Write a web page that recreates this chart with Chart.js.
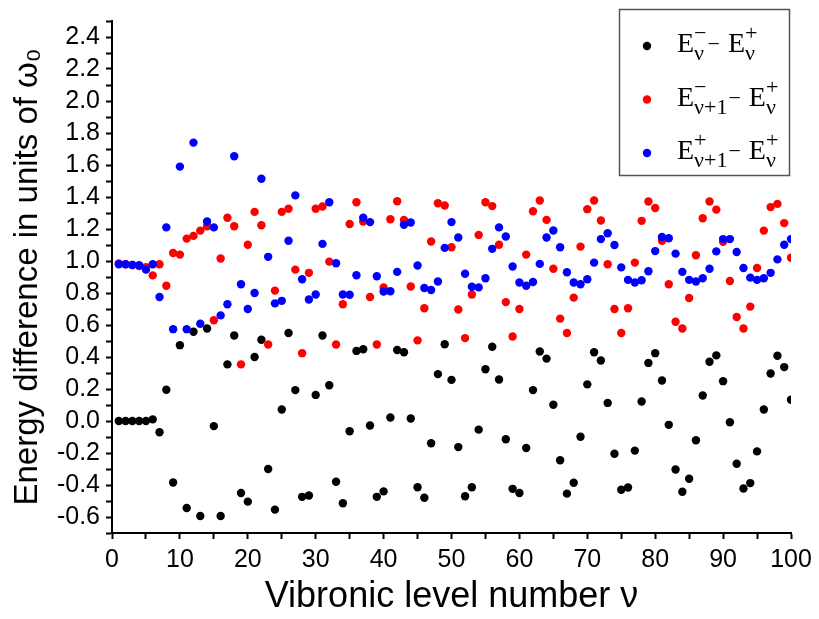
<!DOCTYPE html>
<html>
<head>
<meta charset="utf-8">
<script src="https://cdn.jsdelivr.net/npm/chart.js@4.4.0/dist/chart.umd.min.js"></script>
<style>
html, body { margin: 0; padding: 0; background: #fff; }
#wrap { width: 819px; height: 619px; }
</style>
</head>
<body>
<div id="wrap"><canvas id="energy_chart" width="819" height="619"></canvas></div>
<script>
// vibronic level numbers
const levels = [
  1, 2, 3, 4, 5, 6, 7, 8, 9, 10, 11, 12, 13, 14, 15, 16, 17, 18, 19, 20,
  21, 22, 23, 24, 25, 26, 27, 28, 29, 30, 31, 32, 33, 34, 35, 36, 37, 38, 39, 40,
  41, 42, 43, 44, 45, 46, 47, 48, 49, 50, 51, 52, 53, 54, 55, 56, 57, 58, 59, 60,
  61, 62, 63, 64, 65, 66, 67, 68, 69, 70, 71, 72, 73, 74, 75, 76, 77, 78, 79, 80,
  81, 82, 83, 84, 85, 86, 87, 88, 89, 90, 91, 92, 93, 94, 95, 96, 97, 98, 99, 100
];

// E-(v) - E+(v)
const diff_minus_plus = [
  0, 0, 0, 0, 0, 0.01, -0.07, 0.195, -0.384, 0.474,
  -0.544, 0.558, -0.594, 0.578, -0.032, -0.594, 0.354, 0.534, -0.45, -0.504,
  0.4, 0.508, -0.3, -0.554, 0.072, 0.55, 0.193, -0.474, -0.466, 0.163,
  0.534, 0.223, -0.38, -0.514, -0.064, 0.438, 0.448, -0.028, -0.474, -0.44,
  0.022, 0.444, 0.43, 0.016, -0.414, -0.48, -0.139, 0.293, 0.48, 0.257,
  -0.163, -0.47, -0.414, -0.054, 0.323, 0.464, 0.259, -0.114, -0.424, -0.45,
  -0.169, 0.193, 0.434, 0.39, 0.102, -0.245, -0.454, -0.386, -0.098, 0.229,
  0.43, 0.378, 0.113, -0.205, -0.43, -0.416, -0.185, 0.122, 0.363, 0.424,
  0.253, -0.024, -0.303, -0.442, -0.361, -0.12, 0.159, 0.37, 0.41, 0.249,
  -0.008, -0.267, -0.422, -0.388, -0.19, 0.072, 0.297, 0.408, 0.337, 0.133
];

// E-(v+1) - E+(v)
const diff_next_minus = [
  0.985, 0.98, 0.975, 0.968, 0.962, 0.91, 0.98, 0.845, 1.05, 1.04,
  1.14, 1.157, 1.19, 1.217, 0.63, 1.016, 1.27, 1.217, 0.354, 1.102,
  1.307, 1.223, 0.478, 0.815, 1.307, 1.327, 0.946, 0.424, 0.926, 1.327,
  1.341, 0.996, 0.478, 0.73, 1.231, 1.367, 1.247, 0.775, 0.478, 0.835,
  1.261, 1.373, 1.257, 0.841, 0.504, 0.705, 1.122, 1.361, 1.347, 1.086,
  0.697, 0.518, 0.791, 1.163, 1.367, 1.343, 1.102, 0.743, 0.528, 0.70,
  1.04, 1.311, 1.378, 1.257, 0.952, 0.64, 0.55, 0.771, 1.09, 1.324,
  1.378, 1.253, 0.98, 0.70, 0.55, 0.705, 0.99, 1.251, 1.372, 1.331,
  1.127, 0.855, 0.62, 0.578, 0.769, 1.036, 1.267, 1.372, 1.321, 1.12,
  0.875, 0.65, 0.578, 0.715, 0.956, 1.19, 1.337, 1.357, 1.237, 1.02
];

// E+(v+1) - E+(v)
const diff_next_plus = [
  0.98, 0.98, 0.975, 0.973, 0.946, 0.98, 0.775, 1.21, 0.574, 1.59,
  0.574, 1.74, 0.608, 1.247, 1.21, 0.66, 0.73, 1.655, 0.855, 0.70,
  0.80, 1.514, 1.026, 0.735, 0.751, 1.127, 1.41, 0.886, 0.759, 0.791,
  1.107, 1.367, 0.986, 0.791, 0.789, 0.911, 1.271, 1.243, 0.905, 0.809,
  0.811, 0.932, 1.227, 1.241, 0.972, 0.831, 0.819, 0.872, 1.082, 1.243,
  1.147, 0.92, 0.839, 0.835, 0.892, 1.076, 1.21, 1.153, 0.966, 0.866,
  0.845, 0.869, 0.982, 1.147, 1.191, 1.086, 0.93, 0.866, 0.855, 0.886,
  0.99, 1.137, 1.173, 1.1, 0.96, 0.882, 0.866, 0.88, 0.936, 1.062,
  1.15, 1.142, 1.046, 0.932, 0.882, 0.872, 0.892, 0.952, 1.06, 1.137,
  1.137, 1.056, 0.956, 0.896, 0.882, 0.892, 0.926, 1.01, 1.102, 1.137
];

// legend rows: E with superscript / subscript, a minus, then the second E
const legend_rows = [
  [{ sup: '\u2212', sub: '\u03bd' }, { sup: '+', sub: '\u03bd' }],
  [{ sup: '\u2212', sub: '\u03bd+1' }, { sup: '+', sub: '\u03bd' }],
  [{ sup: '+', sub: '\u03bd+1' }, { sup: '+', sub: '\u03bd' }]
];

function toPoints(values){
  return levels.map((v, i) => ({ x: v, y: values[i] }));
}

function drawTerm(ctx, x, y, term){
  ctx.font = '28px "Liberation Serif", "Times New Roman", serif';
  ctx.fillText('E', x, y);
  x += ctx.measureText('E').width;
  ctx.font = '22px "Liberation Serif", "Times New Roman", serif';
  ctx.fillText(term.sup, x, y - 12);
  ctx.fillText(term.sub, x, y + 8);
  return x + Math.max(ctx.measureText(term.sup).width, ctx.measureText(term.sub).width);
}

const legendBox = {
  id: 'legendBox',
  afterDraw(chart){
    const ctx = chart.ctx;
    ctx.save();
    ctx.strokeStyle = '#555';
    ctx.lineWidth = 1.5;
    ctx.strokeRect(619.5, 9.5, 170, 166);
    ctx.textBaseline = 'alphabetic';
    ctx.textAlign = 'left';
    legend_rows.forEach((row, i) => {
      const ds = chart.data.datasets[i];
      const cy = 46 + i * 53.5;
      ctx.fillStyle = ds.backgroundColor;
      ctx.beginPath();
      ctx.arc(647, cy, 4.2, 0, Math.PI * 2);
      ctx.fill();
      ctx.fillStyle = '#000';
      const base = cy + 6;
      let x = drawTerm(ctx, 677, base, row[0]);
      ctx.font = '22px "Liberation Serif", "Times New Roman", serif';
      ctx.fillText('\u2212', x + 1, base - 1);
      x += 1 + ctx.measureText('\u2212').width + 8;
      drawTerm(ctx, x, base, row[1]);
    });
    ctx.restore();
  }
};

const tick_font = { family: '"Liberation Sans", Arial, sans-serif', size: 25 };

function initEnergyChart(){
  const ctx = document.getElementById('energy_chart').getContext('2d');
  new Chart(ctx, {
    type: 'scatter',
    data: {
      datasets: [{
        label: 'E-v - E+v',
        data: toPoints(diff_minus_plus),
        backgroundColor: '#000000',
        order: 3
      }, {
        label: 'E-v+1 - E+v',
        data: toPoints(diff_next_minus),
        backgroundColor: '#ff0000',
        order: 2
      }, {
        label: 'E+v+1 - E+v',
        data: toPoints(diff_next_plus),
        backgroundColor: '#0000ff',
        order: 1
      }]
    },
    options: {
      responsive: false,
      animation: false,
      devicePixelRatio: 1,
      layout: { padding: { top: 4, right: 28, left: 0, bottom: 0 } },
      elements: { point: { radius: 4.2, borderWidth: 0, hoverRadius: 4.2 } },
      plugins: { legend: { display: false }, tooltip: { enabled: false } },
      scales: {
        x: {
          type: 'linear',
          min: 0,
          max: 100,
          border: { color: '#000', width: 2 },
          grid: { drawOnChartArea: false, tickLength: 6, tickColor: '#000', tickWidth: 2 },
          ticks: {
            stepSize: 5,
            autoSkip: false,
            maxRotation: 0,
            color: '#000',
            font: tick_font,
            padding: 6,
            callback: v => (v % 10 === 0 ? String(v) : '')
          },
          title: {
            display: true,
            text: 'Vibronic level number \u03bd',
            color: '#000',
            font: { family: '"Liberation Sans", Arial, sans-serif', size: 36 },
            padding: { top: 0, bottom: 0 }
          },
          afterFit: s => { s.height = 86; }
        },
        y: {
          min: -0.7,
          max: 2.5,
          border: { color: '#000', width: 2 },
          grid: { drawOnChartArea: false, tickLength: 6, tickColor: '#000', tickWidth: 2 },
          ticks: {
            stepSize: 0.1,
            autoSkip: false,
            color: '#000',
            font: tick_font,
            padding: 6,
            callback: v => {
              const k = Math.round(v * 10);
              return (k % 2 === 0 && k >= -6 && k <= 24) ? (k / 10).toFixed(1) : '';
            }
          },
          title: {
            display: true,
            text: 'Energy difference in units of \u03c9\u2080',
            color: '#000',
            font: { family: '"Liberation Sans", Arial, sans-serif', size: 33 },
            padding: { top: 8, bottom: 0 }
          },
          afterFit: s => { s.width = 112; }
        }
      }
    },
    plugins: [legendBox]
  });
}

initEnergyChart();
</script>
</body>
</html>
